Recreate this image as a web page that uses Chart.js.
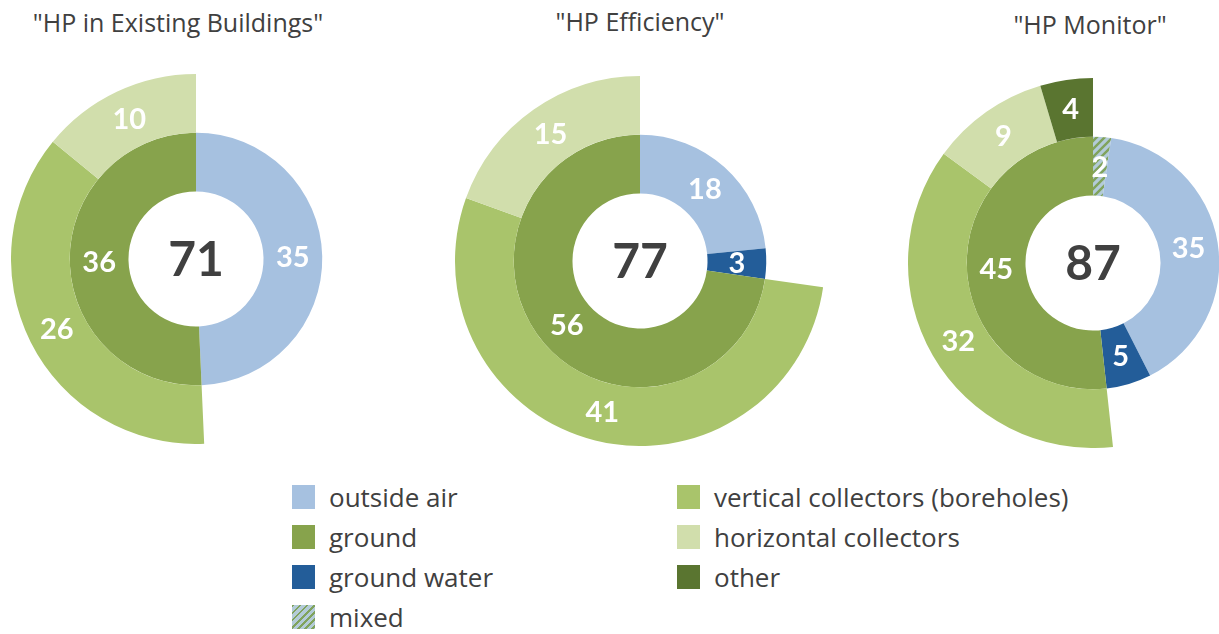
<!DOCTYPE html>
<html>
<head>
<meta charset="utf-8">
<script src="https://cdn.jsdelivr.net/npm/chart.js@4.4.1/dist/chart.umd.min.js"></script>
<style>
  html, body { margin: 0; padding: 0; background: #fff; overflow: hidden; }
  body { width: 1219px; height: 634px; position: relative; font-family: "Open Sans", Lato, sans-serif; color: #404040; }
  .title { position: absolute; font-size: 25px; line-height: 30px; white-space: nowrap; transform: translateX(-50%); }
  .pie { position: absolute; width: 370px; height: 370px; }
  .leg { position: absolute; display: flex; align-items: center; font-size: 26px; line-height: 28px; height: 28px; white-space: nowrap; }
  .leg .sw { width: 23px; height: 24px; margin-right: 14px; flex: none; }
</style>
</head>
<body>
<div id="t0" class="title" style="left:178px; top:7px;"></div>
<div id="t1" class="title" style="left:640px; top:6px;"></div>
<div id="t2" class="title" style="left:1090px; top:9px;"></div>

<div class="pie" style="left:11px; top:74px;"><canvas id="c0"></canvas></div>
<div class="pie" style="left:455px; top:76px;"><canvas id="c1"></canvas></div>
<div class="pie" style="left:908px; top:78px;"><canvas id="c2"></canvas></div>

<div id="legend"></div>

<script>
// inner ring, clockwise from 12 o'clock
const innerCats = ["mixed", "outside air", "ground water", "ground"];
// outer ring, subdivision of "ground"
const outerCats = ["vertical collectors (boreholes)", "horizontal collectors", "other"];

const titles = ['"HP in Existing Buildings"', '"HP Efficiency"', '"HP Monitor"'];

const existingInner = [0, 35, 0, 36];
const existingOuter = [26, 10, 0];
const efficiencyInner = [0, 18, 3, 56];
const efficiencyOuter = [41, 15, 0];
const monitorInner = [2, 35, 5, 45];
const monitorOuter = [32, 9, 4];

const legendLeft = ["outside air", "ground", "ground water", "mixed"];
const legendRight = ["vertical collectors (boreholes)", "horizontal collectors", "other"];

const colors = {
  "outside air": "#a6c1e0",
  "ground": "#87a34c",
  "ground water": "#235d99",
  "vertical collectors (boreholes)": "#a9c46b",
  "horizontal collectors": "#d1deac",
  "other": "#5a7530"
};

function hatch() {
  const c = document.createElement("canvas");
  c.width = c.height = 8;
  const g = c.getContext("2d");
  g.fillStyle = "#b3cbd8"; g.fillRect(0, 0, 8, 8);
  g.strokeStyle = "#80a35c"; g.lineWidth = 2.4;
  g.beginPath();
  g.moveTo(-1, 9); g.lineTo(9, -1);
  g.moveTo(-3, 3); g.lineTo(3, -3);
  g.moveTo(5, 11); g.lineTo(11, 5);
  g.stroke();
  return g.createPattern(c, "repeat");
}
const mixedPattern = hatch();
const innerColor = k => k === "mixed" ? mixedPattern : colors[k];

const segLabels = {
  id: "segLabels",
  afterDatasetsDraw(chart) {
    const ctx = chart.ctx;
    ctx.save();
    ctx.textAlign = "center";
    ctx.textBaseline = "middle";
    ctx.font = "bold 29px Lato";
    ctx.fillStyle = "#ffffff";
    chart.data.datasets.forEach((ds, i) => {
      chart.getDatasetMeta(i).data.forEach((arc, j) => {
        if (!ds.data[j] || (ds.noLabel && ds.noLabel[j])) return;
        const p = arc.getCenterPoint();
        ctx.fillText(String(ds.data[j]), p.x, p.y + 1);
      });
    });
    const inner = chart.data.datasets[1].data;
    const total = inner.reduce((a, b) => a + b, 0);
    const a = chart.getDatasetMeta(1).data[0];
    ctx.font = "bold 48px Lato";
    ctx.fillStyle = "#404040";
    ctx.fillText(String(total), a.x, a.y + 2);
    ctx.restore();
  }
};

function makeChart(id, inner, outer) {
  const total = inner.reduce((a, b) => a + b, 0);
  const ground = inner[innerCats.indexOf("ground")];
  new Chart(document.getElementById(id), {
    type: "doughnut",
    data: {
      labels: ["", ...outerCats],
      datasets: [
        {
          data: [total - ground, ...outer],
          backgroundColor: ["rgba(0,0,0,0)", ...outerCats.map(k => colors[k])],
          noLabel: [true, false, false, false],
          borderWidth: 0
        },
        {
          data: inner,
          backgroundColor: innerCats.map(innerColor),
          borderWidth: 0
        }
      ]
    },
    options: {
      responsive: true,
      maintainAspectRatio: false,
      animation: false,
      cutout: "36.5%",
      layout: { padding: 0 },
      plugins: { legend: { display: false }, tooltip: { enabled: false } },
      events: []
    },
    plugins: [segLabels]
  });
}

titles.forEach((t, i) => { document.getElementById("t" + i).textContent = t; });

makeChart("c0", existingInner, existingOuter);
makeChart("c1", efficiencyInner, efficiencyOuter);
makeChart("c2", monitorInner, monitorOuter);

// legend
const leg = document.getElementById("legend");
function addLegend(items, left, top) {
  items.forEach((k, i) => {
    const row = document.createElement("div");
    row.className = "leg";
    row.style.left = left + "px";
    row.style.top = (top + i * 40) + "px";
    const sw = document.createElement("span");
    sw.className = "sw";
    sw.style.background = k === "mixed"
      ? "repeating-linear-gradient(135deg, #80a35c 0 2px, #b3cbd8 2px 5px)"
      : colors[k];
    const tx = document.createElement("span");
    tx.textContent = k;
    row.appendChild(sw); row.appendChild(tx);
    leg.appendChild(row);
  });
}
addLegend(legendLeft, 292, 483);
addLegend(legendRight, 677, 483);
</script>
</body>
</html>
